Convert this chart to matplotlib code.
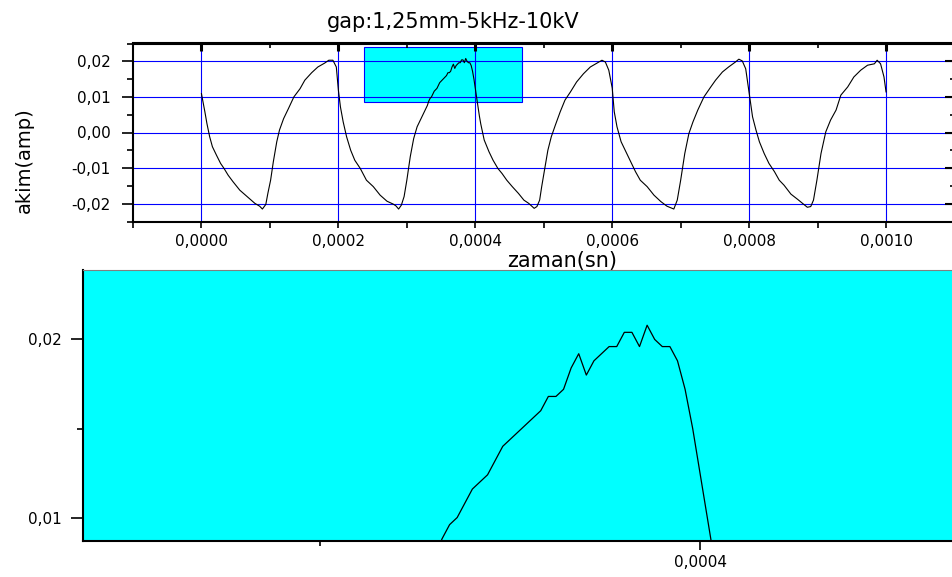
import numpy as np
import matplotlib
matplotlib.use("Agg")
from matplotlib import pyplot as plt
from matplotlib.patches import Rectangle
from matplotlib.ticker import MultipleLocator, FuncFormatter, NullFormatter

# time in microseconds, current in amp
t_cyc1 = [0, 5, 8, 12, 16, 22, 28, 33, 39, 46, 56, 66, 78, 85, 89, 94, 97, 101,
          105, 110, 114, 120, 127, 135, 144, 151, 161, 170, 180, 186, 192, 197]
i_cyc1 = [0.0109, 0.0058, 0.0025, -0.0012, -0.0040, -0.0064, -0.0087, -0.0101,
          -0.0120, -0.0138, -0.0162, -0.0179, -0.0199, -0.0207, -0.0215, -0.0202,
          -0.0171, -0.0134, -0.0082, -0.0026, 0.0007, 0.0039, 0.0067, 0.0100,
          0.0123, 0.0147, 0.0168, 0.0184, 0.0195, 0.0203, 0.0203, 0.0184]

t_cyc2 = [200, 203, 207, 212, 218, 224, 232, 241, 251, 261, 271, 280, 284, 288,
          292, 296, 300, 305, 310, 315, 322, 328, 330]
i_cyc2 = [0.0119, 0.0072, 0.0030, -0.0012, -0.0050, -0.0078, -0.0101, -0.0134,
          -0.0152, -0.0176, -0.0193, -0.0201, -0.0206, -0.0215, -0.0204, -0.0180,
          -0.0134, -0.0068, -0.0017, 0.0016, 0.0044, 0.0068, 0.0076]

# every sample (2 us) inside the zoomed window
t_zoom = [332, 334, 336, 338, 340, 342, 344, 346, 348, 350, 352, 354, 356, 358,
          360, 362, 364, 366, 368, 370, 372, 374, 376, 378, 380, 382, 384, 386,
          388, 390, 392, 394, 396, 398, 400, 402, 404, 406, 408]
i_zoom = [0.0088, 0.0096, 0.0100, 0.0108, 0.0116, 0.0120, 0.0124, 0.0132, 0.0140,
          0.0144, 0.0148, 0.0152, 0.0156, 0.0160, 0.0168, 0.0168, 0.0172, 0.0184,
          0.0192, 0.0180, 0.0188, 0.0192, 0.0196, 0.0196, 0.0204, 0.0204, 0.0196,
          0.0208, 0.0200, 0.0196, 0.0196, 0.0188, 0.0172, 0.0150, 0.0124, 0.0098,
          0.0072, 0.0046, 0.0024]

t_cyc3 = [413, 420, 426, 433, 439, 446, 454, 463, 471, 478, 486, 490, 494, 497,
          501, 506, 511, 517, 524, 531, 539, 548, 558, 568, 578, 585, 590, 595, 600]
i_cyc3 = [-0.0021, -0.0054, -0.0078, -0.0101, -0.0115, -0.0134, -0.0152, -0.0171,
          -0.0190, -0.0199, -0.0213, -0.0208, -0.0190, -0.0152, -0.0106, -0.0050,
          -0.0012, 0.0021, 0.0058, 0.0091, 0.0114, 0.0142, 0.0165, 0.0184, 0.0195,
          0.0203, 0.0198, 0.0175, 0.0125]

t_cyc4 = [603, 607, 613, 620, 627, 634, 641, 651, 661, 671, 680, 690, 695, 700,
          706, 712, 718, 725, 734, 744, 751, 761, 770, 780, 785, 790, 795, 800]
i_cyc4 = [0.0058, 0.0016, -0.0026, -0.0054, -0.0082, -0.0110, -0.0134, -0.0152,
          -0.0176, -0.0194, -0.0207, -0.0215, -0.0190, -0.0134, -0.0059, -0.0003,
          0.0030, 0.0063, 0.0100, 0.0128, 0.0147, 0.0170, 0.0184, 0.0198, 0.0206,
          0.0201, 0.0179, 0.0112]

t_cyc5 = [805, 810, 815, 822, 829, 837, 844, 851, 861, 871, 878, 885, 890, 894,
          899, 905, 912, 919, 927, 934, 944, 953, 963, 973, 983, 987, 992, 997, 1000]
i_cyc5 = [0.0044, 0.0007, -0.0026, -0.0059, -0.0087, -0.0110, -0.0134, -0.0148,
          -0.0173, -0.0188, -0.0199, -0.0210, -0.0208, -0.0190, -0.0134, -0.0059,
          0.0002, 0.0035, 0.0063, 0.0105, 0.0128, 0.0156, 0.0175, 0.0189, 0.0193,
          0.0203, 0.0193, 0.0156, 0.0114]

# zoom box (time in us, current in amp)
zoom_t = [237.5, 468.5]
zoom_i = [0.0087, 0.0239]

zaman = np.array(t_cyc1 + t_cyc2 + t_zoom + t_cyc3 + t_cyc4 + t_cyc5) * 1e-6
akim = np.array(i_cyc1 + i_cyc2 + i_zoom + i_cyc3 + i_cyc4 + i_cyc5)


def comma_fmt(nd):
    def f(v, pos):
        if abs(v) < 1e-12:
            v = 0.0
        return ('%.*f' % (nd, v)).replace('.', ',')
    return FuncFormatter(f)


W, H = 952, 577
fig = plt.figure(figsize=(W / 100, H / 100), dpi=100)

# ---- main plot
ax = fig.add_axes([133 / W, (H - 221.5) / H, (954.5 - 133) / W, 178 / H])
zt0, zt1 = zoom_t[0] * 1e-6, zoom_t[1] * 1e-6
ax.add_patch(Rectangle((zt0, zoom_i[0]), zt1 - zt0, zoom_i[1] - zoom_i[0],
                       facecolor='#00ffff', edgecolor='#0000ff', lw=0.8, zorder=1))
ax.plot(zaman, akim, color='black', lw=0.8, zorder=3)
ax.set_xlim(-0.0001, 0.0011)
ax.set_ylim(-0.025, 0.025)
ax.xaxis.set_major_locator(MultipleLocator(0.0002))
ax.xaxis.set_minor_locator(MultipleLocator(0.0001))
ax.yaxis.set_major_locator(MultipleLocator(0.01))
ax.yaxis.set_minor_locator(MultipleLocator(0.005))
ax.xaxis.set_major_formatter(comma_fmt(4))
ax.yaxis.set_major_formatter(comma_fmt(2))
ax.grid(True, which='major', color='#0000ff', lw=0.8)
ax.tick_params(which='both', top=False, right=False, labelsize=11)
ax.tick_params(axis='x', which='both', direction='out', length=4.3, width=1.2, pad=5)
ax.tick_params(axis='y', which='major', direction='out', length=8, width=1.2, pad=8)
ax.tick_params(axis='y', which='minor', direction='out', length=4.3, width=1.2)
for s in ax.spines.values():
    s.set_linewidth(1.5)

top = ax.secondary_xaxis('top')
top.set_zorder(5)
top.xaxis.set_major_locator(MultipleLocator(0.0002))
top.xaxis.set_minor_locator(MultipleLocator(0.0001))
top.xaxis.set_major_formatter(NullFormatter())
top.tick_params(which='major', direction='in', length=6, width=2.2)
top.tick_params(which='minor', direction='in', length=3.6, width=1.2)
top.spines['top'].set_linewidth(1.5)

right = ax.secondary_yaxis('right')
right.set_zorder(5)
right.yaxis.set_major_locator(MultipleLocator(0.01))
right.yaxis.set_minor_locator(MultipleLocator(0.005))
right.yaxis.set_major_formatter(NullFormatter())
right.tick_params(which='major', direction='in', length=7, width=1.5)
right.tick_params(which='minor', direction='in', length=3.6, width=1.2)

ax.set_xlabel('zaman(sn)', fontsize=15)
ax.xaxis.label.set_va('baseline')
ax.xaxis.set_label_coords(0.5228, -0.2556)
ax.set_ylabel('akim(amp)', fontsize=14)
ax.yaxis.label.set_va('center')
ax.yaxis.set_label_coords(-0.1324, 0.3455)

fig.text(453.5 / W, (H - 28.5) / H, 'gap:1,25mm-5kHz-10kV', ha='center',
         va='baseline', fontsize=15)

# ---- zoomed plot
ax2 = fig.add_axes([83 / W, (H - 540.7) / H, (960.5 - 83) / W, 270.7 / H])
ax2.set_facecolor('#00ffff')
ax2.plot(zaman, akim, color='black', lw=0.9)
ax2.set_xlim(zt0, zt1)
ax2.set_ylim(zoom_i[0], zoom_i[1])
ax2.xaxis.set_major_locator(MultipleLocator(0.0002))
ax2.xaxis.set_minor_locator(MultipleLocator(0.0001))
ax2.yaxis.set_major_locator(MultipleLocator(0.01))
ax2.yaxis.set_minor_locator(MultipleLocator(0.005))
ax2.xaxis.set_major_formatter(comma_fmt(4))
ax2.yaxis.set_major_formatter(comma_fmt(2))
ax2.tick_params(which='both', direction='out', width=1.2, labelsize=11)
ax2.tick_params(axis='x', which='major', length=6.5, pad=4)
ax2.tick_params(axis='x', which='minor', length=3.6)
ax2.tick_params(axis='y', which='major', length=8.6, pad=7)
ax2.tick_params(axis='y', which='minor', length=4.3)
ax2.spines['left'].set_linewidth(1.5)
ax2.spines['bottom'].set_linewidth(1.5)
ax2.spines['top'].set_color('#808080')
ax2.spines['top'].set_linewidth(0.8)
ax2.spines['right'].set_visible(False)

fig.savefig('out.png', dpi=100)
